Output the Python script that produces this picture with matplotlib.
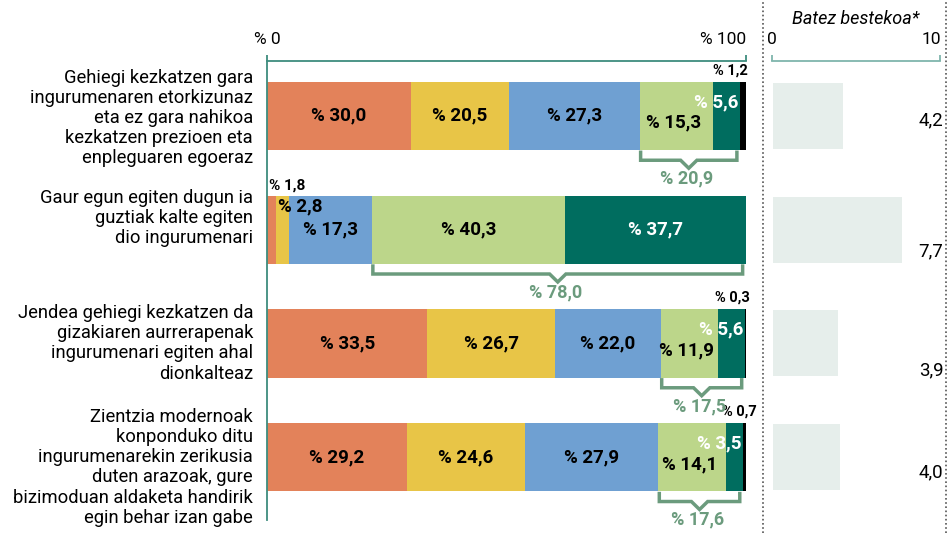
import matplotlib.pyplot as plt
import numpy as np

# data
statements = [
    "Gehiegi kezkatzen gara\ningurumenaren etorkizunaz\neta ez gara nahikoa\nkezkatzen prezioen eta\nenpleguaren egoeraz",
    "Gaur egun egiten dugun ia\nguztiak kalte egiten\ndio ingurumenari",
    "Jendea gehiegi kezkatzen da\ngizakiaren aurrerapenak\ningurumenari egiten ahal\ndionkalteaz",
    "Zientzia modernoak\nkonponduko ditu\ningurumenarekin zerikusia\nduten arazoak, gure\nbizimoduan aldaketa handirik\negin behar izan gabe",
]
seg1 = [30.0, 1.8, 33.5, 29.2]
seg2 = [20.5, 2.8, 26.7, 24.6]
seg3 = [27.3, 17.3, 22.0, 27.9]
seg4 = [15.3, 40.3, 11.9, 14.1]
seg5 = [5.6, 37.7, 5.6, 3.5]
seg6 = [1.2, 0.0, 0.3, 0.7]
agree_total = [20.9, 78.0, 17.5, 17.6]
means = [4.2, 7.7, 3.9, 4.0]

colors = ["#E3825A", "#E8C547", "#6FA0D2", "#BCD68A", "#006D5F", "#000000"]
teal = "#3E8C7E"
brace_col = "#6B9B7D"
font = "Roboto"

def fmt(v):
    return "% " + f"{v:.1f}".replace(".", ",")

W, H = 951, 533
fig = plt.figure(figsize=(W / 100, H / 100), dpi=100)
plt.rcParams['font.family'] = [font, 'DejaVu Sans']

top_px = 61
ax = fig.add_axes([267 / W, 0, (746 - 267) / W, (H - top_px) / H])
ax2 = fig.add_axes([772 / W, 0, (940 - 772) / W, (H - top_px) / H])

ymin = -55 / 114
ymax = 3 + (H - 457) / 114
for a in (ax, ax2):
    a.set_ylim(ymax, ymin)
    for s in ["left", "right", "bottom"]:
        a.spines[s].set_visible(False)
    a.spines["top"].set_color(teal)
    a.spines["top"].set_linewidth(1.3)
    a.set_yticks([])
    a.xaxis.tick_top()
    a.tick_params(axis="x", length=4, width=1.3, color=teal, labeltop=False)
ax.set_xlim(0, 100)
ax.set_xticks([0, 100])
ax2.set_xlim(0, 10)
ax2.set_xticks([0, 10])
ax2.spines["top"].set_color("#7FB5AC")
ax2.tick_params(axis="x", color="#7FB5AC")

# left vertical line
ax.plot([0, 0], [ymin, 3.55], color=teal, lw=1.3, clip_on=False)

y = np.arange(4)
h = 0.6
segs = [seg1, seg2, seg3, seg4, seg5, seg6]
left = np.zeros(4)
for k, s in enumerate(segs):
    ax.barh(y, s, left=left, height=h, color=colors[k], linewidth=0)
    left = left + np.array(s)

# segment labels
fs = 13.5
lab = dict(fontsize=fs, fontweight="bold", ha="center", va="center")
small_x = [100.3, 100.3, 100.8, 102.2]   # where the tiny black values sit
for i in range(4):
    starts = np.cumsum([0] + [s[i] for s in segs])
    for k in range(3):
        v = segs[k][i]
        if v > 10:
            ax.text(starts[k] + v / 2, y[i], fmt(v), color="black", **lab)
    v4 = seg4[i]
    v5 = seg5[i]
    if v5 > 10:
        ax.text(starts[3] + v4 / 2, y[i], fmt(v4), color="black", **lab)
        ax.text(starts[4] + v5 / 2, y[i], fmt(v5), color="white", **lab)
    else:
        ax.text(starts[3] + v4 / 2 - 0.5, y[i] + 0.06, fmt(v4), color="black", **lab)
        ax.text(starts[5] - 0.3, y[i] - 0.12, fmt(v5), color="white",
                fontsize=fs, fontweight="bold", ha="right", va="center")
    if seg6[i] > 0:
        ax.text(small_x[i], y[i] - 0.4, fmt(seg6[i]), color="black", fontsize=10.5,
                fontweight="bold", ha="right", va="center")

# small first bar-2 segments
ax.text(0.4, 1 - 0.39, fmt(seg1[1]), color="black", fontsize=11, fontweight="bold",
        ha="left", va="center")
ax.text(2.4, 1 - 0.2, fmt(seg2[1]), color="black", fontsize=fs, fontweight="bold",
        ha="left", va="center")

# braces under green segments
for i in range(4):
    x0 = sum(s[i] for s in segs[:3]) + 0.2
    x1 = x0 + seg4[i] + seg5[i] - 0.8
    xm = (x0 + x1) / 2
    yt = y[i] + h / 2 + 0.02
    yh = yt + 0.07
    ytip = yh + 0.07
    d = 1.7
    ax.plot([x0, x0, xm - d, xm, xm + d, x1, x1], [yt, yh, yh, ytip, yh, yh, yt],
            color=brace_col, lw=2.5, solid_joinstyle="miter", clip_on=False)
    ax.text(xm - 0.5, yh + 0.16, fmt(agree_total[i]), color=brace_col, fontsize=13,
            fontweight="bold", ha="center", va="center")

# statement labels
lab_off = [0.02, -0.1, 0.0, 0.09]
for i, t in enumerate(statements):
    ax.text(-2.9, y[i] + lab_off[i], t, ha="right", va="center", fontsize=13.2,
            linespacing=1.15, color="black")

# axis labels
ax.text(0, -0.67, "% 0", ha="center", va="center", fontsize=12.5)
ax.text(100, -0.67, "% 100", ha="right", va="center", fontsize=12.5)

# mean panel
ax2.barh(y, means, height=0.58, color="#E6EEEB", linewidth=0, left=0.05)
mean_off = [0.04, 0.19, 0.24, 0.13]
for i, m in enumerate(means):
    ax2.text(10.2, y[i] + mean_off[i], f"{m:.1f}".replace(".", ","), ha="right",
             va="center", fontsize=13.5)
ax2.text(0, -0.67, "0", ha="center", va="center", fontsize=12.5)
ax2.text(10.05, -0.67, "10", ha="right", va="center", fontsize=12.5)
ax2.text(5, -0.85, "Batez bestekoa*", ha="center", va="center", fontsize=13,
         style="italic")

# dotted separators
for xp in (763, 946):
    fig.add_artist(plt.Line2D([xp / W, xp / W], [0, 1], color="#555555", lw=1.2,
                              linestyle=(0, (1, 1.5))))

fig.savefig("out.png", dpi=100)
